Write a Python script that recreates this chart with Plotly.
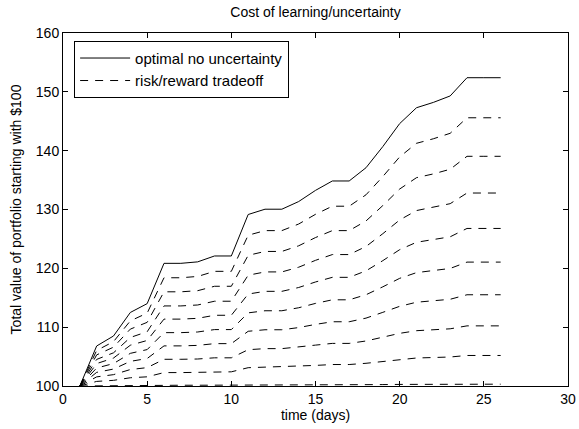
import plotly.graph_objects as go

days = list(range(1, 27))

optimal = [100.0, 106.8, 108.5, 112.5, 114.0, 120.85, 120.85, 121.1, 122.1, 122.1,
           129.15, 130.05, 130.05, 131.35, 133.25, 134.85, 134.85, 137.1, 140.7, 144.6,
           147.3, 148.2, 149.3, 152.4, 152.4, 152.4]

risk_1 = [100.0, 106.04, 107.54, 111.07, 112.39, 118.40, 118.40, 118.62, 119.49, 119.49,
          125.63, 126.41, 126.41, 127.53, 129.18, 130.56, 130.56, 132.50, 135.60, 138.94,
          141.25, 142.02, 142.95, 145.59, 145.59, 145.59]
risk_2 = [100.0, 105.29, 106.60, 109.67, 110.82, 116.01, 116.01, 116.20, 116.95, 116.95,
          122.21, 122.87, 122.87, 123.83, 125.23, 126.41, 126.41, 128.05, 130.67, 133.48,
          135.41, 136.05, 136.84, 139.04, 139.04, 139.04]
risk_3 = [100.0, 104.52, 105.64, 108.25, 109.22, 113.61, 113.61, 113.77, 114.41, 114.41,
          118.83, 119.39, 119.39, 120.19, 121.36, 122.34, 122.34, 123.71, 125.89, 128.22,
          129.82, 130.35, 130.99, 132.80, 132.80, 132.80]
risk_4 = [100.0, 103.81, 104.75, 106.93, 107.74, 111.37, 111.37, 111.50, 112.02, 112.02,
          115.63, 116.09, 116.09, 116.74, 117.68, 118.47, 118.47, 119.57, 121.31, 123.17,
          124.43, 124.85, 125.36, 126.78, 126.78, 126.78]
risk_5 = [100.0, 103.06, 103.81, 105.55, 106.19, 109.07, 109.07, 109.18, 109.59, 109.59,
          112.43, 112.79, 112.79, 113.30, 114.04, 114.65, 114.65, 115.51, 116.86, 118.30,
          119.27, 119.59, 119.98, 121.06, 121.06, 121.06]
risk_6 = [100.0, 102.32, 102.88, 104.19, 104.67, 106.82, 106.82, 106.90, 107.20, 107.20,
          109.30, 109.56, 109.56, 109.93, 110.47, 110.92, 110.92, 111.54, 112.52, 113.54,
          114.24, 114.47, 114.74, 115.51, 115.51, 115.51]
risk_7 = [100.0, 101.55, 101.93, 102.80, 103.12, 104.54, 104.54, 104.59, 104.79, 104.79,
          106.17, 106.35, 106.35, 106.59, 106.95, 107.24, 107.24, 107.65, 108.28, 108.95,
          109.40, 109.54, 109.72, 110.22, 110.22, 110.22]
risk_8 = [100.0, 100.78, 100.96, 101.40, 101.56, 102.28, 102.28, 102.31, 102.41, 102.41,
          103.11, 103.20, 103.20, 103.32, 103.50, 103.65, 103.65, 103.86, 104.18, 104.53,
          104.76, 104.84, 104.93, 105.19, 105.19, 105.19]
risk_9 = [100.0, 100.04, 100.05, 100.08, 100.08, 100.13, 100.13, 100.13, 100.13, 100.13,
          100.17, 100.18, 100.18, 100.19, 100.20, 100.21, 100.21, 100.22, 100.24, 100.27,
          100.28, 100.29, 100.30, 100.31, 100.31, 100.31]

risk_series = [risk_1, risk_2, risk_3, risk_4, risk_5, risk_6, risk_7, risk_8, risk_9]

x_ticks = [0, 5, 10, 15, 20, 25, 30]
y_ticks = [100, 110, 120, 130, 140, 150, 160]

FONT = "Liberation Sans, Arial, Helvetica, sans-serif"

fig = go.Figure()
fig.add_trace(go.Scatter(x=days, y=optimal, mode="lines", name="optimal no uncertainty",
                         line=dict(color="black", width=1)))
for i, s in enumerate(risk_series):
    fig.add_trace(go.Scatter(x=days, y=s, mode="lines", name="risk/reward tradeoff",
                             showlegend=(i == 0),
                             line=dict(color="black", width=1, dash="8px,7px")))

axis_common = dict(showline=True, linecolor="black", linewidth=1, mirror="ticks",
                   ticks="inside", ticklen=5, tickcolor="black", showgrid=False,
                   zeroline=False, automargin=False,
                   tickfont=dict(family=FONT, size=14, color="black"))

fig.update_layout(
    width=579, height=429,
    margin=dict(l=63, r=11, t=33, b=43),
    paper_bgcolor="white", plot_bgcolor="white",
    title=dict(text="Cost of learning/uncertainty", x=0.545, xanchor="center",
               y=0.972, yanchor="middle",
               font=dict(family=FONT, size=14, color="black")),
    xaxis=dict(range=[0, 30], tickvals=x_ticks,
               title=dict(text="time (days)", standoff=1,
                          font=dict(family=FONT, size=14, color="black")),
               **axis_common),
    yaxis=dict(range=[100, 160], tickvals=y_ticks,
               title=dict(text="Total value of portfolio starting with $100", standoff=10,
                          font=dict(family=FONT, size=14, color="black")),
               **axis_common),
    legend=dict(x=0.022, y=0.978, xanchor="left", yanchor="top",
                bgcolor="white", bordercolor="black", borderwidth=1,
                font=dict(family=FONT, size=15, color="black"),
                tracegroupgap=0, itemwidth=50),
    showlegend=True,
)

fig.write_html("out.html", config={"displayModeBar": False},
               post_script="document.body.style.margin='0px';document.body.style.overflow='hidden';")
